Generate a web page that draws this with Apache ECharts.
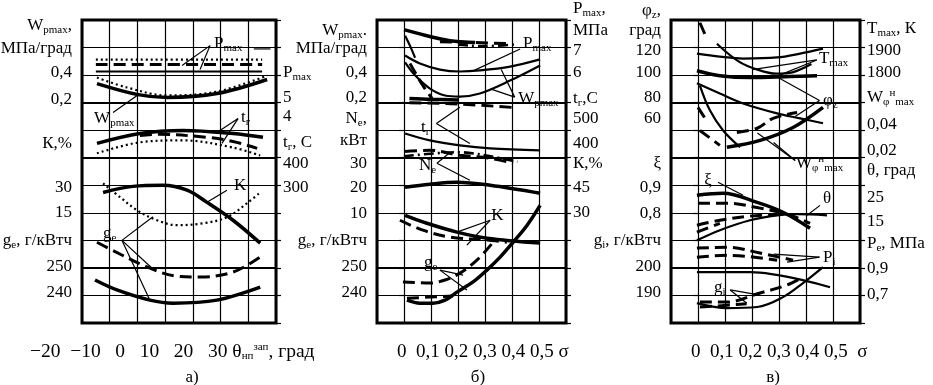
<!DOCTYPE html>
<html>
<head>
<meta charset="utf-8">
<title>Characteristics</title>
<script src="https://cdn.jsdelivr.net/npm/echarts@6/dist/echarts.min.js"></script>
<style>html,body{margin:0;background:#fff;}</style>
</head>
<body>
<div id="main" style="width:933px;height:385px;"></div>
<script>
// x: θ (panel a) or σ (panels b, c); y: grid row units, 0 = bottom, 11 = top
// --- panel a ---
const aPmaxDot   = [[-25, 9.56], [35, 9.56]];
const aPmaxDash  = [[-25, 9.38], [35, 9.38]];
const aPmaxSolid = [[-25, 9.13], [35, 9.13]];
const aWpSolid = [[-24.6, 8.69], [-9.8, 8.29], [0.7, 8.19], [18.7, 8.33], [36.8, 8.84]];
const aWpDot   = [[-24.6, 8.91], [-13.8, 8.55], [0.7, 8.26], [18.7, 8.40], [36.8, 8.98]];
const aTrSolid = [[-24.6, 6.52], [-9.1, 6.88], [6.5, 6.99], [24.5, 6.88], [35.3, 6.74]];
const aTrDash  = [[-9.1, 6.81], [-2.9, 6.85], [15.1, 6.74], [24.5, 6.59], [33.2, 6.34]];
const aTrDot   = [[-24.6, 6.16], [-9.1, 6.56], [6.5, 6.63], [24.5, 6.37], [34.3, 6.08]];
const aKSolid  = [[-22.4, 4.74], [-11.6, 4.96], [-0.8, 5.0], [7.9, 4.82], [15.1, 4.38], [24.5, 3.73], [34.3, 2.9]];
const aKDot    = [[-22.4, 5.07], [-16.3, 4.57], [-10.1, 4.09], [-2.9, 3.73], [4.3, 3.55], [13.7, 3.62], [22.3, 3.84], [29.6, 4.35], [34.3, 4.74]];
const aGeDash  = [[-24.6, 2.93], [-20.6, 2.72], [-5.5, 1.99], [4.3, 1.70], [12.6, 1.67], [24.5, 1.85], [34.3, 2.39]];
const aGeSolid = [[-25.3, 1.56], [-17.4, 1.20], [-5.5, 0.83], [2.9, 0.72], [18.7, 0.83], [34.3, 1.30]];
const aLeads = [
  [[16.2, 10.07], [6.1, 9.35]], [[16.2, 10.07], [12.6, 9.2]], [[32, 9.95], [38, 9.95]],
  [[-18.8, 7.64], [-10.1, 8.26]],
  [[26.3, 7.42], [18.7, 6.92]], [[26.3, 7.42], [20.5, 6.52]],
  [[22.3, 4.82], [15.1, 4.38]],
  [[-15.6, 3.0], [-4.4, 3.86]], [[-15.6, 3.0], [-4.7, 1.99]], [[-15.6, 3.0], [-5.5, 0.83]]
];
// --- panel b ---
const bPmaxSolid = [[0.0, 10.65], [0.096, 10.40], [0.17, 10.25], [0.263, 10.18]];
const bPmaxDash  = [[0.133, 10.21], [0.263, 10.18], [0.393, 10.14]];
const bPmaxDD    = [[0.2, 10.1], [0.3, 10.05], [0.42, 10.12]];
const bW1 = [[0.004, 9.71], [0.059, 9.42], [0.133, 9.20], [0.207, 9.13], [0.281, 9.17], [0.393, 9.31], [0.504, 9.57]];
const bW2 = [[0.004, 9.46], [0.041, 8.99], [0.096, 8.51], [0.152, 8.26], [0.207, 8.22], [0.281, 8.33], [0.393, 8.80], [0.504, 9.35]];
const bW3 = [[0.004, 10.43], [0.022, 10.07], [0.041, 9.63]];
const bW4 = [[0.022, 9.42], [0.07, 8.62], [0.104, 8.15]];
const bTrSolid = [[0.02, 8.15], [0.1, 8.12], [0.2, 8.1]];
const bTrDash  = [[0.02, 8.0], [0.2, 7.95], [0.41, 7.82]];
const bNe1 = [[0.004, 6.88], [0.096, 6.63], [0.207, 6.45], [0.319, 6.34], [0.504, 6.27]];
const bNe2 = [[0.004, 6.23], [0.096, 6.27], [0.207, 6.09], [0.319, 5.98], [0.404, 5.80]];
const bNe3 = [[0.0, 6.05], [0.2, 6.2], [0.35, 6.0], [0.42, 5.85]];
const bNe4 = [[0.004, 4.93], [0.096, 5.04], [0.196, 5.11], [0.319, 5.0], [0.504, 4.71]];
const bK1 = [[0.004, 3.91], [0.085, 3.62], [0.196, 3.30], [0.307, 3.08], [0.504, 2.90]];
const bK2 = [[-0.015, 3.73], [0.07, 3.37], [0.17, 3.12], [0.307, 3.01], [0.381, 2.93]];
const bGe1 = [[0.011, 0.83], [0.059, 0.72], [0.107, 0.72], [0.152, 0.83], [0.196, 1.12], [0.256, 1.49], [0.307, 1.92], [0.356, 2.39], [0.404, 2.93], [0.456, 3.55], [0.504, 4.27]];
const bGe2 = [[-0.004, 1.49], [0.096, 1.45], [0.152, 1.56], [0.207, 1.81], [0.27, 2.28], [0.33, 2.93]];
const bGe3 = [[0.011, 0.90], [0.096, 0.94], [0.181, 0.98]];
const bLeads = [
  [[0.43, 9.95], [0.26, 9.17]],
  [[0.41, 8.2], [0.32, 8.5]], [[0.41, 8.2], [0.36, 9.2]],
  [[0.12, 7.24], [0.207, 7.83]], [[0.12, 7.24], [0.244, 6.52]],
  [[0.122, 5.80], [0.17, 6.19]], [[0.122, 5.80], [0.244, 5.18]],
  [[0.319, 3.73], [0.196, 3.30]], [[0.319, 3.73], [0.233, 2.83]],
  [[0.133, 1.92], [0.219, 1.74]], [[0.133, 1.92], [0.233, 1.20]]
];
// --- panel c ---
const cT1 = [[-0.004, 9.78], [0.081, 9.67], [0.167, 9.60], [0.293, 9.64], [0.378, 9.78], [0.463, 9.96]];
const cT2 = [[-0.004, 9.16], [0.081, 8.98], [0.193, 8.91], [0.34, 8.95], [0.441, 8.98]];
const cT3 = [[0.07, 10.14], [0.15, 9.5], [0.22, 9.2], [0.29, 9.05], [0.35, 9.1], [0.42, 9.4]];
const cT4 = [[0.007, 10.9], [0.033, 10.32]];
const cPhi = [[-0.004, 8.70], [0.081, 8.33], [0.167, 7.97], [0.293, 7.61], [0.378, 7.43], [0.463, 7.25]];
const cW1 = [[0.007, 8.62], [0.044, 7.72], [0.093, 6.99], [0.156, 6.38]];
const cW2 = [[0.107, 6.38], [0.23, 6.63], [0.352, 7.10], [0.463, 7.83]];
const cW3 = [[0.0, 7.83], [0.026, 7.43]];
const cW4 = [[0.007, 6.99], [0.081, 6.45]];
const cW5 = [[0.144, 6.92], [0.219, 7.07], [0.278, 7.43], [0.367, 7.64]];
const cXi1 = [[-0.004, 4.64], [0.093, 4.71], [0.219, 4.38], [0.315, 4.02], [0.415, 3.44]];
const cXi2 = [[0.0, 4.35], [0.107, 4.35], [0.23, 4.17], [0.341, 3.91], [0.415, 3.62]];
const cTh1 = [[-0.004, 3.0], [0.081, 3.37], [0.193, 3.73], [0.293, 3.91], [0.367, 3.95], [0.478, 3.91]];
const cTh2 = [[-0.004, 3.55], [0.081, 3.73], [0.193, 3.88], [0.315, 3.95]];
const cTh3 = [[-0.004, 3.30], [0.081, 3.62]];
const cPi1 = [[-0.004, 2.72], [0.107, 2.75], [0.23, 2.54], [0.352, 2.28]];
const cPi2 = [[-0.004, 2.39], [0.107, 2.46], [0.293, 2.28]];
const cPe  = [[-0.004, 1.85], [0.193, 1.85], [0.489, 1.30]];
const cGi1 = [[-0.004, 0.72], [0.107, 0.54], [0.219, 0.58], [0.315, 0.94], [0.389, 1.45], [0.463, 2.03]];
const cGi2 = [[0.007, 0.76], [0.107, 0.76], [0.23, 1.09], [0.33, 1.38], [0.389, 1.67]];
const cGi3 = [[0.007, 0.58], [0.119, 0.65], [0.18, 0.7]];
const cLeads = [
  [[0.44, 9.55], [0.2, 9.2]], [[0.44, 9.55], [0.3, 8.99]],
  [[0.45, 8.08], [0.29, 8.95]], [[0.45, 8.08], [0.36, 7.5]],
  [[0.36, 5.9], [0.22, 6.9]], [[0.36, 5.9], [0.28, 6.55]],
  [[0.074, 5.11], [0.167, 4.64]], [[0.452, 4.27], [0.404, 3.91]],
  [[0.45, 2.39], [0.33, 2.21]], [[0.45, 2.39], [0.28, 2.5]],
  [[0.119, 1.20], [0.181, 0.72]], [[0.119, 1.20], [0.23, 1.01]]
];

// curve tags inside panels: [text, x, row]
const tagA = [['P{s|max}', 17.3, 10.14], ['W{s|pmax}', -26, 7.42], ['t{s|г}', 27, 7.46], ['K', 24.5, 5.0], ['g{s|e}', -22.8, 3.26]];
const tagB = [['P{s|max}', 0.437, 10.14], ['W{s|pmax}', 0.419, 8.15], ['t{s|г}', 0.059, 7.1], ['N{s|e}', 0.052, 5.72], ['K', 0.319, 3.91], ['g{s|e}', 0.07, 2.21]];
const tagC = [['T{s|max}', 0.444, 9.6], ['φ{s|z}', 0.459, 8.08], ['W{s|φ}{u|н}{s|max}', 0.359, 5.79], ['ξ', 0.019, 5.18], ['θ', 0.459, 4.53], ['P{s|i}', 0.459, 2.39], ['g{s|i}', 0.056, 1.27]];

// scale labels beside the panels: [text, row]
const leftA = [['W{s|pmax},', 10.79], ['МПа/град', 9.96], ['0,4', 9.09], ['0,2', 8.11], ['К,%', 6.52], ['30', 4.92], ['15', 4.0], ['g{s|e}, г/кВтч', 3.0], ['250', 2.06], ['240', 1.12]];
const rightA = [['P{s|max}', 9.09], ['5', 8.19], ['4', 7.5], ['t{s|г}, С', 6.56], ['400', 5.79], ['300', 4.92]];
const leftB = [['W{s|pmax}.', 10.61], ['МПа/град', 9.96], ['0,4', 9.09], ['0,2', 8.19], ['N{s|e},', 7.42], ['кВт', 6.63], ['30', 5.79], ['20', 4.92], ['10', 3.98], ['g{s|e}, г/кВтч', 3.0], ['250', 2.06], ['240', 1.12]];
const rightB = [['P{s|max},', 11.41], ['МПа', 10.61], ['7', 9.89], ['6', 9.09], ['t{s|г},С', 8.15], ['500', 7.42], ['400', 6.52], ['К,%', 5.79], ['45', 4.92], ['30', 4.02]];
const leftC = [['φ{s|z},', 11.34], ['град', 10.61], ['120', 9.89], ['100', 9.09], ['80', 8.19], ['60', 7.42], ['ξ', 5.79], ['0,9', 4.92], ['0,8', 3.98], ['g{s|i}, г/кВтч', 3.0], ['200', 2.06], ['190', 1.12]];
const rightC = [['T{s|max}, К', 10.69], ['1900', 9.89], ['1800', 9.09], ['W{s|φ}{u|н}{s|max}', 8.19], ['0,04', 7.21], ['0,02', 6.27], ['θ, град', 5.54], ['25', 4.56], ['15', 3.69], ['P{s|e}, МПа', 2.90], ['0,9', 1.96], ['0,7', 1.05]];

const ticksA = ['−20', '−10', '0', '10', '20', '30'];
const ticksS = ['0', '0,1', '0,2', '0,3', '0,4', '0,5'];
const captions = ['а)', 'б)', 'в)'];

// ---------------------------------------------------------------
const FONT = 'Liberation Serif';
const GRIDS = [
  {left: 82, top: 20, width: 194, height: 303},
  {left: 377, top: 20, width: 189, height: 303},
  {left: 671, top: 20, width: 189, height: 303}
];
const XR = [[-30, 40, 10], [-0.1, 0.6, 0.1], [-0.1, 0.6, 0.1]];
const STY = {
  solid: {width: 2.2, type: 'solid'},
  thick: {width: 3.5, type: 'solid'},
  dash: {width: 3, type: [12, 6]},
  dot: {width: 2.2, type: [2, 3]},
  dashdot: {width: 2.6, type: [10, 4, 2, 4]},
  lead: {width: 1.2, type: 'solid'}
};
const RICH = {
  s: {fontFamily: FONT, fontSize: 11, lineHeight: 12, verticalAlign: 'bottom', fill: '#000'},
  u: {fontFamily: FONT, fontSize: 11, lineHeight: 12, verticalAlign: 'top', fill: '#000'}
};

const panels = [
  {curves: [[aPmaxDot, 'dot'], [aPmaxDash, 'dash'], [aPmaxSolid, 'solid'], [aWpSolid, 'thick'], [aWpDot, 'dot'],
            [aTrSolid, 'thick'], [aTrDash, 'dash'], [aTrDot, 'dot'], [aKSolid, 'thick'], [aKDot, 'dot'],
            [aGeDash, 'dash'], [aGeSolid, 'thick']], leads: aLeads, tags: tagA},
  {curves: [[bPmaxSolid, 'thick'], [bPmaxDash, 'dash'], [bPmaxDD, 'dashdot'], [bW1, 'solid'], [bW2, 'solid'],
            [bW3, 'solid'], [bW4, 'dash'], [bTrSolid, 'thick'], [bTrDash, 'dash'], [bNe1, 'solid'], [bNe2, 'dash'],
            [bNe3, 'dashdot'], [bNe4, 'thick'], [bK1, 'thick'], [bK2, 'dash'], [bGe1, 'thick'], [bGe2, 'dash'],
            [bGe3, 'dash']], leads: bLeads, tags: tagB},
  {curves: [[cT1, 'solid'], [cT2, 'thick'], [cT3, 'solid'], [cT4, 'dash'], [cPhi, 'solid'], [cW1, 'solid'],
            [cW2, 'thick'], [cW3, 'dash'], [cW4, 'dash'], [cW5, 'dash'], [cXi1, 'thick'], [cXi2, 'dash'],
            [cTh1, 'solid'], [cTh2, 'dash'], [cTh3, 'dash'], [cPi1, 'dash'], [cPi2, 'dash'], [cPe, 'solid'],
            [cGi1, 'solid'], [cGi2, 'dash'], [cGi3, 'dash']], leads: cLeads, tags: tagC}
];

function lineSeries(g, data, sty, smooth) {
  return {
    type: 'line', xAxisIndex: g, yAxisIndex: g * 2, data: data, symbol: 'none',
    smooth: smooth, silent: true, clip: false, animation: false,
    emphasis: {disabled: true},
    lineStyle: Object.assign({color: '#000', cap: 'butt'}, STY[sty])
  };
}

const grid = [], xAxis = [], yAxis = [], series = [];
GRIDS.forEach(function (gr, g) {
  grid.push(Object.assign({show: true, borderColor: '#000', borderWidth: 3, backgroundColor: '#fff'}, gr));
  xAxis.push({
    type: 'value', gridIndex: g, min: XR[g][0], max: XR[g][1], interval: XR[g][2],
    axisLine: {show: false}, axisTick: {show: false}, axisLabel: {show: false},
    splitLine: {show: true, lineStyle: {color: '#000', width: 1.2}}
  });
  ['left', 'right'].forEach(function (pos) {
    yAxis.push({
      type: 'value', gridIndex: g, position: pos, min: 0, max: 11, interval: 1,
      axisLine: {show: false}, axisLabel: {show: false},
      axisTick: {show: true, length: 5, lineStyle: {color: '#000', width: 1.2}},
      splitLine: {show: pos === 'left', lineStyle: {color: '#000', width: 1.2}}
    });
  });
  // heavier rulings between the groups of scales
  series.push({
    type: 'line', xAxisIndex: g, yAxisIndex: g * 2, data: [], silent: true, animation: false,
    markLine: {
      silent: true, symbol: ['none', 'none'], label: {show: false}, animation: false,
      lineStyle: {color: '#000', width: 2.2, type: 'solid'},
      data: [{yAxis: 8}, {yAxis: 6}, {yAxis: 2}]
    }
  });
  const p = panels[g];
  p.curves.forEach(function (c) { series.push(lineSeries(g, c[0], c[1], 0.35)); });
  p.leads.forEach(function (l) { series.push(lineSeries(g, l, 'lead', false)); });
});

const chart = echarts.init(document.getElementById('main'), null, {renderer: 'canvas'});
chart.setOption({backgroundColor: '#fff', animation: false, grid: grid, xAxis: xAxis, yAxis: yAxis, series: series});

function txt(text, x, y, align, size) {
  return {
    type: 'text', x: x, y: y, silent: true, z: 100,
    style: {text: text, fill: '#000', fontFamily: FONT, fontSize: size || 17, lineHeight: 20,
            align: align, verticalAlign: 'middle', rich: RICH}
  };
}
function toPx(g, x, r) {
  return chart.convertToPixel({xAxisIndex: g, yAxisIndex: g * 2}, [x, r]);
}

const graphics = [];
[[leftA, rightA], [leftB, rightB], [leftC, rightC]].forEach(function (pair, g) {
  const gr = GRIDS[g];
  pair[0].forEach(function (l) {
    graphics.push(txt(l[0], gr.left - 10, toPx(g, XR[g][0], l[1])[1], 'right'));
  });
  pair[1].forEach(function (l) {
    graphics.push(txt(l[0], gr.left + gr.width + 7, toPx(g, XR[g][0], l[1])[1], 'left'));
  });
  panels[g].tags.forEach(function (t) {
    const p = toPx(g, t[1], t[2]);
    graphics.push(txt(t[0], p[0] + 1, p[1], 'left'));
  });
});
graphics.push(txt(ticksA[0] + '  ' + ticksA.slice(1).join('   ') + ' θ{s|нп}{u|зап}, град', 30, 352, 'left', 19.5));
graphics.push(txt(ticksS[0] + '  ' + ticksS.slice(1).join(' ') + ' σ', 397, 352, 'left', 19));
graphics.push(txt(ticksS[0] + '  ' + ticksS.slice(1).join(' ') + '  σ', 691, 352, 'left', 19));
graphics.push(txt(captions[0], 192, 378, 'center'));
graphics.push(txt(captions[1], 478, 378, 'center'));
graphics.push(txt(captions[2], 773, 378, 'center'));
chart.setOption({graphic: graphics});
</script>
</body>
</html>
